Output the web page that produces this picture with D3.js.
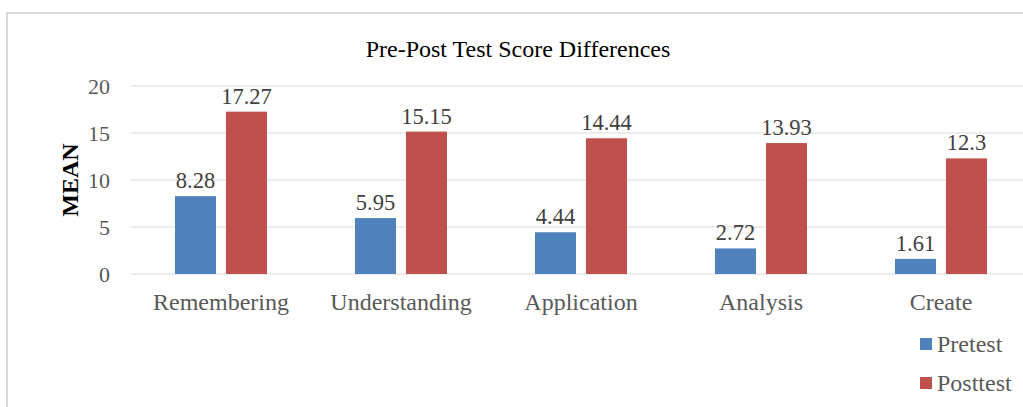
<!DOCTYPE html>
<html>
<head>
<meta charset="utf-8">
<script src="https://cdn.jsdelivr.net/npm/d3@7"></script>
<style>
  body { margin: 0; background: #fff; }
</style>
</head>
<body>
<svg id="chart" width="1023" height="407" font-family="Liberation Serif, Times New Roman, serif"></svg>
<script>
// Pre-Post test score chart

const categories = ["Remembering", "Understanding", "Application", "Analysis", "Create"];
const seriesNames = ["Pretest", "Posttest"];
const pretest = [8.28, 5.95, 4.44, 2.72, 1.61];
const posttest = [17.27, 15.15, 14.44, 13.93, 12.3];
const yTicks = [0, 5, 10, 15, 20];
const colors = ["#4f81bd", "#c0504d"];

const svg = d3.select("#chart");

// outer chart border
svg.append("rect")
  .attr("x", 7).attr("y", 13)
  .attr("width", 1030).attr("height", 410)
  .attr("fill", "#fff")
  .attr("stroke", "#d9d9d9")
  .attr("stroke-width", 2);

svg.append("text")
  .attr("x", 518).attr("y", 57)
  .attr("text-anchor", "middle")
  .attr("font-size", 24)
  .attr("fill", "#000")
  .text("Pre-Post Test Score Differences");

const x = d3.scaleBand().domain(categories).range([131, 1031]);
const y = d3.scaleLinear().domain([0, 20]).range([274, 86]);

const barW = 41, gap = 10;

// gridlines
svg.append("g")
  .selectAll("line")
  .data(yTicks)
  .join("line")
  .attr("x1", 131).attr("x2", 1031)
  .attr("y1", d => y(d)).attr("y2", d => y(d))
  .attr("stroke", "#d9d9d9")
  .attr("stroke-width", 1);

// y axis labels
const yAxis = svg.append("g")
  .attr("transform", "translate(110,0)")
  .call(d3.axisLeft(y).tickValues(yTicks).tickSize(0).tickPadding(0));
yAxis.attr("font-family", null);
yAxis.select(".domain").remove();
yAxis.selectAll("text")
  .attr("font-size", 22)
  .attr("fill", "#595959");

svg.append("text")
  .attr("transform", "translate(78,180) rotate(-90)")
  .attr("text-anchor", "middle")
  .attr("font-size", 24)
  .attr("font-weight", "bold")
  .attr("fill", "#000")
  .text("MEAN");

// x axis labels
const xAxis = svg.append("g")
  .attr("transform", "translate(0,274)")
  .call(d3.axisBottom(x).tickSize(0).tickPadding(0));
xAxis.attr("font-family", null);
xAxis.select(".domain").remove();
xAxis.selectAll("text")
  .attr("dy", null)
  .attr("y", 36)
  .attr("font-size", 24)
  .attr("fill", "#595959");

const series = [pretest, posttest];
series.forEach((vals, si) => {
  const off = si === 0 ? -gap / 2 - barW : gap / 2;
  const g = svg.append("g");
  g.selectAll("rect")
    .data(vals)
    .join("rect")
    .attr("x", (d, i) => x(categories[i]) + x.bandwidth() / 2 + off)
    .attr("y", d => y(d))
    .attr("width", barW)
    .attr("height", d => y(0) - y(d))
    .attr("fill", colors[si]);
  g.selectAll("text")
    .data(vals)
    .join("text")
    .attr("x", (d, i) => x(categories[i]) + x.bandwidth() / 2 + off + barW / 2)
    .attr("y", d => y(d) - 8)
    .attr("text-anchor", "middle")
    .attr("font-size", 22.5)
    .attr("fill", "#404040")
    .text(d => d);
});

// legend
const legend = svg.append("g")
  .selectAll("g")
  .data(seriesNames)
  .join("g")
  .attr("transform", (d, i) => `translate(920,${344 + i * 39})`);
legend.append("rect")
  .attr("x", 0).attr("y", -6)
  .attr("width", 12).attr("height", 12)
  .attr("fill", (d, i) => colors[i]);
legend.append("text")
  .attr("x", 17).attr("y", 8)
  .attr("font-size", 24)
  .attr("fill", "#595959")
  .text(d => d);
</script>
</body>
</html>
